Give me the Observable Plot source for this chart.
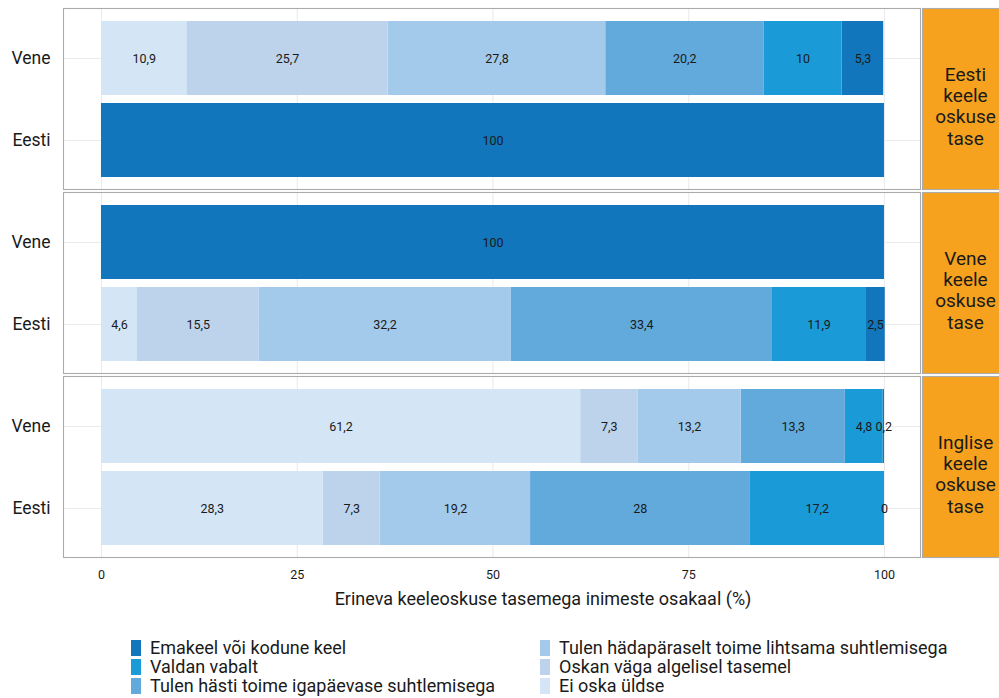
<!DOCTYPE html>
<html><head><meta charset="utf-8">
<script src="https://cdn.jsdelivr.net/npm/d3@7"></script>
<script src="https://cdn.jsdelivr.net/npm/@observablehq/plot@0.6"></script>
<style>
body{margin:0;background:#fff;font-family:Roboto,sans-serif;}
#chart{width:999px;}
</style></head><body><div id="chart"></div>
<script>
const facets = ["Eesti keele oskuse tase", "Vene keele oskuse tase", "Inglise keele oskuse tase"];
const groups = ["Vene", "Eesti"];
const levels = [
  "Emakeel või kodune keel",
  "Valdan vabalt",
  "Tulen hästi toime igapäevase suhtlemisega",
  "Tulen hädapäraselt toime lihtsama suhtlemisega",
  "Oskan väga algelisel tasemel",
  "Ei oska üldse"
];
const colors = ["#1176BC", "#1A9AD6", "#62AADB", "#A3CAEA", "#BDD3EC", "#D4E6F5"];
// values in the order of `levels`
const eestiKeeleVene = [5.3, 10, 20.2, 27.8, 25.7, 10.9];
const eestiKeeleEesti = [100, null, null, null, null, null];
const veneKeeleVene = [100, null, null, null, null, null];
const veneKeeleEesti = [2.5, 11.9, 33.4, 32.2, 15.5, 4.6];
const ingliseKeeleVene = [0.2, 4.8, 13.3, 13.2, 7.3, 61.2];
const ingliseKeeleEesti = [0, 17.2, 28, 19.2, 7.3, 28.3];
const xTicks = [0, 25, 50, 75, 100];
const xTitle = "Erineva keeleoskuse tasemega inimeste osakaal (%)";

const series = [
  [facets[0], "Vene", eestiKeeleVene],
  [facets[0], "Eesti", eestiKeeleEesti],
  [facets[1], "Vene", veneKeeleVene],
  [facets[1], "Eesti", veneKeeleEesti],
  [facets[2], "Vene", ingliseKeeleVene],
  [facets[2], "Eesti", ingliseKeeleEesti]
];
const data = series.flatMap(([f, g, vals]) =>
  vals.map((v, i) => v == null ? null : {facet: f, group: g, level: levels[i], value: v}).filter(Boolean));
const fmt = v => String(v).replace(".", ",");
const stackOrder = levels.slice().reverse();

const W = 999, H = 622, ML = 63, MR = 79;
const panelW = W - ML - MR;

const plot = Plot.plot({
  width: W, height: H, marginTop: 8, marginBottom: 65, marginLeft: ML, marginRight: MR,
  style: {fontFamily: "Roboto", fontSize: "12px", color: "#1a1a1a", background: "#fff"},
  x: {domain: [-4.85, 104.6]},
  y: {domain: groups, paddingInner: 0.1, paddingOuter: 0.15},
  fy: {domain: facets, paddingInner: 0.017, paddingOuter: 0, axis: null},
  color: {domain: levels, range: colors},
  marks: [
    Plot.gridX({ticks: xTicks, stroke: "#ebebeb", strokeOpacity: 1, strokeWidth: 1.1}),
    Plot.gridY({stroke: "#ebebeb", strokeOpacity: 1, strokeWidth: 1.1}),
    Plot.barX(data, Plot.stackX({x: "value", y: "group", fy: "facet", fill: "level", order: stackOrder})),
    Plot.text(data, Plot.stackX({x: "value", y: "group", fy: "facet", z: "level", order: stackOrder,
      text: d => fmt(d.value), fontSize: 12.5, fill: "#1a1a1a"})),
    Plot.frame({stroke: "#ababab", strokeWidth: 1.1}),
    Plot.frame({fill: "#F6A21E", stroke: "#ababab", strokeWidth: 1.1, insetLeft: panelW + 2, insetRight: -MR}),
    Plot.text(facets, {fy: d => d, text: d => d.split(" ").join("\n"), frameAnchor: "right", textAnchor: "middle",
      dx: 45, dy: 7, fontSize: 19, lineHeight: 1.12, fill: "#1a1a1a"}),
    Plot.axisX({ticks: xTicks, tickSize: 0, tickPadding: 13, label: null, fontSize: 12.5}),
    Plot.axisY({tickSize: 0, tickPadding: 13, label: null, fontSize: 17.5}),
    Plot.text([xTitle], {fy: () => facets[2], text: d => d, frameAnchor: "bottom", dx: 51, dy: 47, fontSize: 18, fill: "#1a1a1a"})
  ]
});
document.getElementById("chart").appendChild(plot);

const legend = plot.legend("color", {columns: 2, swatchWidth: 10, swatchHeight: 16});
legend.style.fontFamily = "Roboto";
legend.style.fontSize = "18px";
legend.style.lineHeight = "18px";
legend.style.color = "#1a1a1a";
legend.style.width = "800px";
legend.style.marginLeft = "131px";
legend.style.marginTop = "17px";
legend.style.overflow = "visible";
legend.querySelectorAll("div").forEach(el => {
  el.style.overflow = "visible";
  el.style.textOverflow = "clip";
  el.style.whiteSpace = "nowrap";
});
document.getElementById("chart").appendChild(legend);
</script></body></html>
